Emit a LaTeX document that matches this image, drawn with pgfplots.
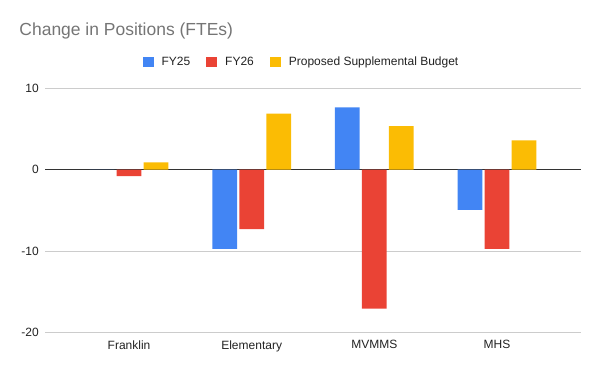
\documentclass[border=0pt]{standalone}
\usepackage{fontspec}
\setmainfont{Liberation Sans}
\usepackage{pgfplots}
\pgfplotsset{compat=1.18}
\definecolor{cblue}{HTML}{4285F4}
\definecolor{cred}{HTML}{EA4335}
\definecolor{cyellow}{HTML}{FBBC04}
\definecolor{titlegray}{HTML}{757575}
\definecolor{gridgray}{HTML}{CCCCCC}
\definecolor{labelgray}{HTML}{222222}
\begin{document}
\begin{tikzpicture}
\useasboundingbox (0,0) rectangle (450pt,278.25pt);
\node[anchor=west, inner sep=0pt, text=titlegray, font=\fontsize{13.1pt}{16pt}\selectfont] at (14.4pt,254.8pt) {Change in Positions (FTEs)};
\begin{axis}[
  at={(33.75pt,29pt)}, anchor=south west,
  scale only axis, width=402pt, height=183pt,
  ybar=1.75pt, bar width=18.5pt,
  xmin=-0.685, xmax=3.685, ymin=-20, ymax=10,
  xtick={0,1,2,3}, xticklabels={Franklin,Elementary,MVMMS,MHS},
  ytick={-20,-10,10}, yticklabels={-20,-10,10},
  extra y ticks={0}, extra y tick labels={0},
  extra y tick style={grid=major, major grid style={color=black!80, line width=0.8pt}},
  ymajorgrids, major grid style={gridgray, line width=0.75pt},
  axis line style={draw=none},
  major tick length=0pt,
  tick label style={font=\fontsize{9pt}{11pt}\selectfont, text=labelgray},
  yticklabel style={anchor=east, inner sep=0pt, xshift=-4.5pt},
  xticklabel style={anchor=north, inner sep=0pt, yshift=-6pt},
  legend columns=3,
  legend style={at={(0.479,1.1078)}, anchor=center, draw=none, fill=none,
    font=\fontsize{9pt}{11pt}\selectfont, text=labelgray,
    /tikz/every odd column/.append style={column sep=4pt},
    /tikz/every even column/.append style={column sep=10pt}},
  legend image code/.code={\fill[#1] (0pt,-4.1pt) rectangle (8.25pt,4.1pt);},
  legend cell align=left,
]
\addplot[draw=none, fill=cblue] coordinates {(0,0) (1,-9.75) (2,7.65) (3,-4.95)};
\addplot[draw=none, fill=cred] coordinates {(0,-0.8) (1,-7.3) (2,-17.1) (3,-9.75)};
\addplot[draw=none, fill=cyellow] coordinates {(0,0.9) (1,6.9) (2,5.35) (3,3.6)};
\legend{FY25, FY26, Proposed Supplemental Budget}
\end{axis}
\end{tikzpicture}
\end{document}
